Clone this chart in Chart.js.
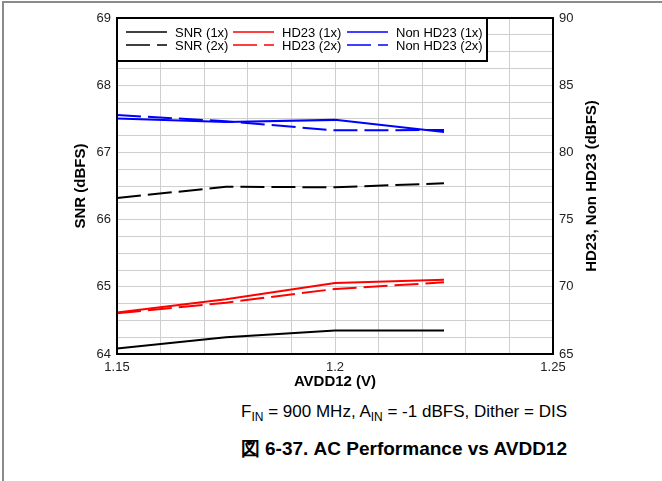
<!DOCTYPE html>
<html>
<head>
<meta charset="utf-8">
<script src="https://cdn.jsdelivr.net/npm/chart.js@4.4.0/dist/chart.umd.min.js"></script>
<style>
  html, body { margin: 0; padding: 0; background: #fff; }
  body { width: 662px; height: 481px; position: relative; overflow: hidden; font-family: "Liberation Sans", Arial, sans-serif; }
  #frame { position: absolute; left: 2px; top: 1px; width: 670px; height: 490px; border-top: 2px solid #8a8a8a; border-left: 2px solid #8a8a8a; }
  #wrap { position: absolute; left: 0; top: 0; width: 662px; height: 400px; }
  .cap { position: absolute; right: 95px; white-space: nowrap; color: #000; }
  #cond { top: 402px; font-size: 17px; }
  #cond sub { font-size: 12px; vertical-align: -4px; line-height: 0; }
  #fig { top: 436px; font-size: 19px; font-weight: bold; }
</style>
</head>
<body>
<div id="frame"></div>
<div id="wrap"><canvas id="chart" width="662" height="400"></canvas></div>
<div class="cap" id="cond">F<sub>IN</sub> = 900 MHz, A<sub>IN</sub> = -1 dBFS, Dither = DIS</div>
<div class="cap" id="fig">図 6-37. AC Performance vs AVDD12</div>
<script>
// AVDD12 sweep points (V)
const avdd = [1.15, 1.175, 1.2, 1.225];

// SNR on the left axis (dBFS)
const snr1x = [64.08, 64.25, 64.35, 64.35];
const snr2x = [66.32, 66.49, 66.48, 66.54];

// HD23 / Non HD23 on the right axis (dBFS)
const hd23_1x = [68.08, 69.08, 70.28, 70.52];
const hd23_2x = [68.03, 68.82, 69.84, 70.33];
const nonHd23_1x = [82.52, 82.26, 82.42, 81.52];
const nonHd23_2x = [82.78, 82.32, 81.64, 81.67];

const leftTicks = [64, 65, 66, 67, 68, 69];
const rightTicks = [65, 70, 75, 80, 85, 90];
const xTicks = [1.15, 1.2, 1.25];

const DASH = [24, 7];
const FONT = "'Liberation Sans', Arial, sans-serif";

function pts(vals) {
    return vals.map((v, i) => ({ x: avdd[i], y: v }));
}

function isMajor(v, list) {
    return list.some((t) => Math.abs(t - v) < 1e-6);
}

// order: column (SNR, HD23, Non HD23) x row (1x, 2x)
const datasets = [
    { label: "SNR (1x)", data: pts(snr1x), borderColor: "#000", yAxisID: "y", borderDash: [] },
    { label: "SNR (2x)", data: pts(snr2x), borderColor: "#000", yAxisID: "y", borderDash: DASH },
    { label: "HD23 (1x)", data: pts(hd23_1x), borderColor: "#ff0000", yAxisID: "y2", borderDash: [] },
    { label: "HD23 (2x)", data: pts(hd23_2x), borderColor: "#ff0000", yAxisID: "y2", borderDash: DASH },
    { label: "Non HD23 (1x)", data: pts(nonHd23_1x), borderColor: "#0000ff", yAxisID: "y2", borderDash: [] },
    { label: "Non HD23 (2x)", data: pts(nonHd23_2x), borderColor: "#0000ff", yAxisID: "y2", borderDash: DASH },
].map((d) => Object.assign(d, { borderWidth: 2, pointRadius: 0, tension: 0, fill: false }));

// frame + boxed legend + rotated right title
const decor = {
    id: "decor",
    afterDatasetsDraw(chart) {
        const { ctx, chartArea: a } = chart;
        ctx.save();
        ctx.strokeStyle = "#000";
        ctx.lineWidth = 2;
        ctx.strokeRect(a.left, a.top, a.right - a.left, a.bottom - a.top);

        // legend box
        const bx = a.left, by = a.top, bw = 370, bh = 43;
        ctx.fillStyle = "#fff";
        ctx.fillRect(bx, by, bw, bh);
        ctx.strokeRect(bx, by, bw, bh);

        const colX = [9, 116, 230];
        const rowY = [14, 27];
        ctx.font = "13px " + FONT;
        ctx.textBaseline = "middle";
        chart.data.datasets.forEach((ds, i) => {
            const x = bx + colX[Math.floor(i / 2)];
            const y = by + rowY[i % 2];
            ctx.strokeStyle = ds.borderColor;
            ctx.lineWidth = 1.5;
            ctx.setLineDash(ds.borderDash);
            ctx.beginPath();
            ctx.moveTo(x, y);
            ctx.lineTo(x + 41, y);
            ctx.stroke();
            ctx.setLineDash([]);
            ctx.fillStyle = "#000";
            ctx.fillText(ds.label, x + 49, y + 1);
        });

        // right axis title, reading bottom-to-top
        ctx.translate(592, (a.top + a.bottom) / 2);
        ctx.rotate(-Math.PI / 2);
        ctx.font = "bold 15px " + FONT;
        ctx.textAlign = "center";
        ctx.fillStyle = "#000";
        ctx.fillText("HD23, Non HD23 (dBFS)", 0, 0);
        ctx.restore();
    },
};

const gridStyle = { color: "#cfcfcf", lineWidth: 1, drawTicks: false };

new Chart(document.getElementById("chart"), {
    type: "line",
    data: { datasets },
    options: {
        responsive: false,
        animation: false,
        layout: { padding: { left: 69, right: 58, top: 18, bottom: 7 } },
        plugins: { legend: { display: false }, tooltip: { enabled: false } },
        scales: {
            x: {
                type: "linear",
                min: 1.15,
                max: 1.25,
                grid: gridStyle,
                border: { display: false },
                afterFit: (s) => { s.height = 39; },
                afterBuildTicks: (s) => {
                    s.ticks = [];
                    for (let k = 0; k <= 10; k++) s.ticks.push({ value: +(1.15 + k * 0.01).toFixed(2) });
                },
                ticks: {
                    autoSkip: false,
                    maxRotation: 0,
                    padding: 6,
                    color: "#222",
                    font: { family: FONT, size: 13 },
                    callback: (v) => (isMajor(v, xTicks) ? String(+v.toFixed(2)) : ""),
                },
                title: {
                    display: true,
                    text: "AVDD12 (V)",
                    color: "#000",
                    font: { family: FONT, size: 15, weight: "bold" },
                    padding: { top: 0, bottom: 2 },
                },
            },
            y: {
                position: "left",
                min: 64,
                max: 69,
                grid: gridStyle,
                border: { display: false },
                afterFit: (s) => { s.width = 48; },
                afterBuildTicks: (s) => {
                    s.ticks = [];
                    for (let k = 0; k <= 20; k++) s.ticks.push({ value: 64 + k * 0.25 });
                },
                ticks: {
                    autoSkip: false,
                    padding: 6,
                    color: "#222",
                    font: { family: FONT, size: 13 },
                    callback: (v) => (isMajor(v, leftTicks) ? String(v) : ""),
                },
                title: {
                    display: true,
                    text: "SNR (dBFS)",
                    color: "#000",
                    font: { family: FONT, size: 15, weight: "bold" },
                    padding: { top: 3, bottom: 0 },
                },
            },
            y2: {
                position: "right",
                min: 65,
                max: 90,
                grid: { drawOnChartArea: false, drawTicks: false },
                border: { display: false },
                afterFit: (s) => { s.width = 51; },
                afterBuildTicks: (s) => {
                    s.ticks = rightTicks.map((v) => ({ value: v }));
                },
                ticks: {
                    autoSkip: false,
                    padding: 6,
                    color: "#222",
                    font: { family: FONT, size: 13 },
                },
            },
        },
    },
    plugins: [decor],
});
</script>
</body>
</html>
